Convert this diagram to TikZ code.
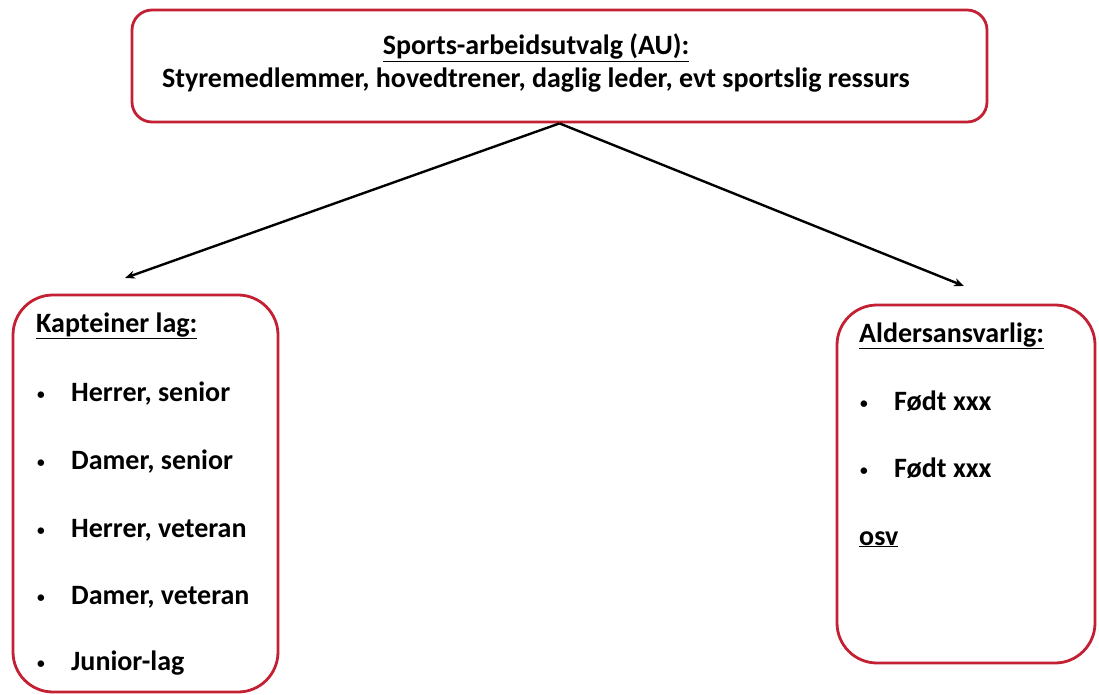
\documentclass[tikz,border=0pt]{standalone}
\usepackage{fontspec}
\setmainfont{Carlito}
\usetikzlibrary{arrows.meta}
\definecolor{boxred}{RGB}{196,32,52}
\tikzset{
  box/.style={draw=boxred, line width=2.8pt, fill=white, inner sep=0pt},
  txt/.style={anchor=base west, inner sep=0pt, font=\fontsize{28}{32}\selectfont\bfseries},
  ctxt/.style={anchor=base, inner sep=0pt, font=\fontsize{28}{32}\selectfont\bfseries},
  conn/.style={line width=2.4pt, -{Stealth[length=10pt,width=8pt]}}
}
\newcommand{\bul}[1]{\makebox[35pt][l]{\hspace{1pt}\raisebox{2pt}{\scalebox{0.55}{\textbullet}}}#1}
\begin{document}
\begin{tikzpicture}[x=1pt,y=-1pt]
\useasboundingbox (0,0) rectangle (1099,695);
% boxes
\node[box, rounded corners=20pt, minimum width=855pt, minimum height=112pt] (au) at (559.5,66) {};
\node[box, rounded corners=40pt, minimum width=265pt, minimum height=397pt] (kap) at (145.5,493.5) {};
\node[box, rounded corners=40pt, minimum width=258pt, minimum height=358pt] (ald) at (966,484) {};
% top text
\node[ctxt] (t1) at (536,55) {\underline{Sports-arbeidsutvalg (AU):}};
\node[ctxt] (t2) at (536,88) {Styremedlemmer, hovedtrener, daglig leder, evt sportslig ressurs};
% left text
\node[txt] (k0) at (36,332) {\underline{Kapteiner lag:}};
\node[txt] (k1) at (36,401) {\bul{Herrer, senior}};
\node[txt] (k2) at (36,469) {\bul{Damer, senior}};
\node[txt] (k3) at (36,537) {\bul{Herrer, veteran}};
\node[txt] (k4) at (36,604) {\bul{Damer, veteran}};
\node[txt] (k5) at (36,670) {\bul{Junior-lag}};
% right text
\node[txt] (a0) at (859,342) {\underline{Aldersansvarlig:}};
\node[txt] (a1) at (859,410) {\bul{Født xxx}};
\node[txt] (a2) at (859,477) {\bul{Født xxx}};
\node[txt] (a3) at (859,545) {\underline{osv}};
% connectors
\coordinate (lend) at (125,278);
\coordinate (rend) at (964,286);
\draw[conn] (au.south) -- (lend);
\draw[conn] (au.south) -- (rend);
\end{tikzpicture}
\end{document}
